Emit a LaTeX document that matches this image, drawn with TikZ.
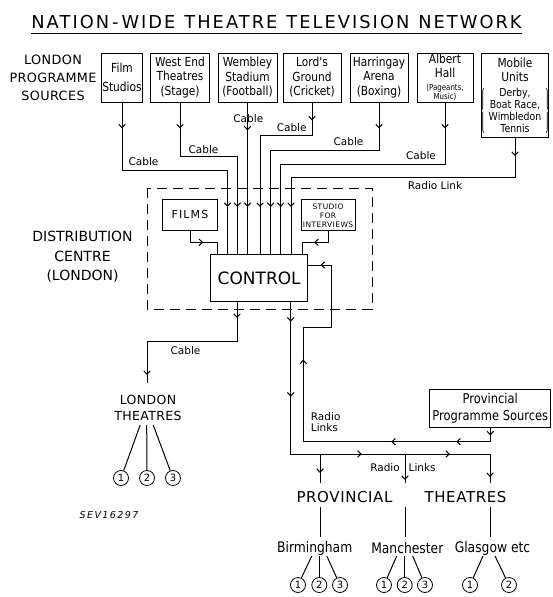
\documentclass[tikz,border=0pt]{standalone}
\usepackage{fontspec}
\setmainfont{DejaVu Sans}
\newfontfamily\narrowfont{DejaVu Sans}[FakeStretch=0.85]
\usetikzlibrary{arrows.meta, decorations.markings, decorations.pathreplacing}
\newcommand\smallsrc{\fontsize{8.3}{9}\selectfont}
\newcommand\listsrc{\fontsize{11}{12}\selectfont}
\tikzset{
  wire/.style={line width=1pt},
  mk/.style={postaction={decorate, decoration={markings,
      mark=at position #1 with {\arrow{Straight Barb[length=3.5pt, width=6.5pt]}}}}},
  src/.style={draw, line width=1pt, inner sep=0pt, align=center, minimum height=49pt,
      font=\narrowfont\fontsize{12.5}{14.5}\selectfont},
  lbl/.style={inner sep=0pt, font=\fontsize{10.5}{11}\selectfont},
  hdr/.style={inner sep=0pt, align=center},
  num/.style={circle, draw, line width=0.8pt, minimum size=15pt, inner sep=0pt,
      font=\fontsize{10}{10}\selectfont},
  curl/.style={decorate, decoration={brace, amplitude=2.5pt}, line width=0.6pt}
}

\begin{document}
\begin{tikzpicture}[x=1pt, y=-1pt]
\useasboundingbox (0,0) rectangle (553,597);

% title
\node[inner sep=0pt, font=\fontsize{17.8}{20}\selectfont\addfontfeature{LetterSpace=11.5}] (title) at (276.5,21.7)
  {NATION\,-\,WIDE\enspace THEATRE\enspace TELEVISION\enspace NETWORK};
\draw[line width=1.2pt] ([yshift=-5pt]title.south west) -- ([yshift=-5pt]title.south east);

% London programme sources
\node[hdr, font=\fontsize{12.8}{18.3}\selectfont\addfontfeature{LetterSpace=3}] (lps) at (53,78) {LONDON\\PROGRAMME\\SOURCES};
\node[src, minimum width=41pt] (film) at (122,77.5) {Film\\[4.5pt]Studios};
\node[src, minimum width=59pt] (westend) at (180,77.5) {West End\\Theatres\\(Stage)};
\node[src, minimum width=59pt] (wembley) at (247.5,77.5) {Wembley\\Stadium\\(Football)};
\node[src, minimum width=58pt] (lords) at (312,77.5) {Lord's\\Ground\\(Cricket)};
\node[src, minimum width=58pt] (harr) at (379,77.5) {Harringay\\Arena\\(Boxing)};
\node[src, minimum width=56pt] (albert) at (445,77.5)
  {Albert\\Hall\\[-1.5pt]\smallsrc(Pageants,\\[-5.5pt]\smallsrc Music)};
\node[src, minimum width=67pt, minimum height=84pt] (mobile) at (515,95.5)
  {Mobile\\[-1pt]Units\\[1pt]\listsrc Derby,\\[-2.5pt]\listsrc Boat Race,\\[-2.5pt]\listsrc Wimbledon\\[-3pt]\listsrc Tennis};
\draw[curl] ([xshift=3pt, yshift=5pt]mobile.south west) -- ([xshift=3pt, yshift=50pt]mobile.south west);
\draw[curl] ([xshift=-3pt, yshift=50pt]mobile.south east) -- ([xshift=-3pt, yshift=5pt]mobile.south east);

% distribution centre
\node[hdr, font=\fontsize{14}{19.7}\selectfont] (dist) at (82.5,257) {DISTRIBUTION\\CENTRE\\(LONDON)};
\draw[wire, dash pattern=on 10pt off 6pt] (147,188) rectangle (372,309);
\node[draw, wire, minimum width=54.6pt, minimum height=31pt, inner sep=0pt,
  font=\fontsize{11}{12}\selectfont\addfontfeature{LetterSpace=10}] (films) at (190,214.5) {FILMS};
\node[draw, wire, minimum width=54pt, minimum height=30.7pt, inner sep=0pt, align=center,
  font=\fontsize{7.5}{9}\selectfont\addfontfeature{LetterSpace=6}] (studio) at (328,215.3) {STUDIO\\FOR\\INTERVIEWS};
\node[draw, wire, minimum width=97pt, minimum height=46.7pt, inner sep=0pt,
  font=\fontsize{17}{20}\selectfont] (control) at (259.2,278.3) {CONTROL};

\foreach \x [count=\i] in {227.5,237.3,247.5,260,270.7,280.7,291}
  \coordinate (in\i) at (\x,255);
\coordinate (cl) at (217.3,255);
\coordinate (cr) at (302.3,255);
\coordinate (out1) at (237,301.7);
\coordinate (out2) at (290.7,301.7);

% cables into control
\draw[wire, mk=26pt, mk=-48pt] (film.south) |- (in1 |- 0,170) -- (in1);
\draw[wire, mk=26pt, mk=-48pt] (westend.south) |- (in2 |- 0,156) -- (in2);
\draw[wire, mk=28pt, mk=-48pt] (wembley.south) -- (in3);
\draw[wire, mk=18pt, mk=-48pt] (lords.south) |- (in4 |- 0,135) -- (in4);
\draw[wire, mk=26pt, mk=-48pt] (harr.south) |- (in5 |- 0,150) -- (in5);
\draw[wire, mk=26pt, mk=-48pt] (albert.south) |- (in6 |- 0,164) -- (in6);
\draw[wire, mk=18pt, mk=-48pt] (mobile.south) |- (in7 |- 0,177) -- (in7);
\draw[wire, mk=25pt] (films.south) |- (cl |- 0,242.3) -- (cl);
\draw[wire, mk=25pt] (studio.south) |- (cr |- 0,242.3) -- (cr);

\node[lbl] (c1) at (143.5,161.7) {Cable};
\node[lbl] (c2) at (203.5,150) {Cable};
\node[lbl] (c3) at (248.3,118.3) {Cable};
\node[lbl] (c4) at (291.7,127.3) {Cable};
\node[lbl] (c5) at (348.5,141.7) {Cable};
\node[lbl] (c6) at (421,156) {Cable};
\node[lbl] (rl) at (435,186) {Radio Link};

% London theatres
\coordinate (ltin) at (147,383);
\draw[wire, mk=16.3pt, mk=-8pt] (out1) |- (ltin |- 0,341.7) -- (ltin);
\node[lbl] (c7) at (185.5,351) {Cable};
\node[hdr, font=\fontsize{12.5}{16}\selectfont\addfontfeature{LetterSpace=3}] (lth) at (148,408) {LONDON\\THEATRES};
\node[num] (l1) at (121,478) {1};
\node[num] (l2) at (147,478) {2};
\node[num] (l3) at (173,478) {3};
\coordinate (lf) at (146.7,425);
\foreach \c/\dx in {l1/-6.5,l2/0,l3/6.5}
  \draw[wire] ([xshift=\dx pt]lf) -- (\c);

\node[font=\itshape\fontsize{9.5}{10}\selectfont\addfontfeature{LetterSpace=15}, inner sep=0pt] (sev) at (109,515) {SEV16297};

% provincial
\node[draw, wire, minimum width=120.7pt, minimum height=38pt, inner sep=0pt, align=center,
  font=\narrowfont\fontsize{13.5}{16.7}\selectfont] (pps) at (490.3,408.3) {Provincial\\Programme Sources};
\draw[wire, mk=7.7pt, mk=48pt, mk=113pt, mk=283.1pt, mk=-12.3pt]
  (pps.south) |- (303.3,441.7) |- (331.7,327.7) |- (control.east |- 0,265);
\node[lbl, align=left, anchor=west] (rls) at (310.7,422) {Radio\\Links};

\coordinate (pv1) at (320,483);
\coordinate (pv2) at (405,483);
\coordinate (pv3) at (490,483);
\draw[wire, mk=20pt, mk=95pt, mk=223.3pt, mk=311.6pt, mk=-6pt] (out2) |- (pv3 |- 0,454) -- (pv3);
\draw[wire, mk=-10pt] (pv1 |- 0,454) -- (pv1);
\draw[wire, mk=-3pt] (pv2 |- 0,454) -- (pv2);
\node[lbl, anchor=east] (rad) at (400,468) {Radio};
\node[lbl, anchor=west] (lnk) at (408.5,468) {Links};

\node[inner sep=0pt, font=\fontsize{15}{16}\selectfont\addfontfeature{LetterSpace=4}] (prov) at (344.5,496.7) {PROVINCIAL};
\node[inner sep=0pt, font=\fontsize{15}{16}\selectfont\addfontfeature{LetterSpace=4}] (pth) at (465.5,496.7) {THEATRES};
\foreach \p in {pv1,pv2,pv3}
  \draw[wire] (\p |- 0,507) -- (\p |- 0,536.7);

\node[inner sep=0pt, font=\narrowfont\fontsize{14.5}{16}\selectfont] (bham) at (314.7,548) {Birmingham};
\node[inner sep=0pt, font=\narrowfont\fontsize{14.5}{16}\selectfont] (manch) at (407.3,548) {Manchester};
\node[inner sep=0pt, font=\narrowfont\fontsize{14.5}{16}\selectfont] (glas) at (492.5,548) {Glasgow etc};

\node[num] (b1) at (298,585) {1};
\node[num] (b2) at (319.3,585) {2};
\node[num] (b3) at (340,585) {3};
\node[num] (m1) at (384,585) {1};
\node[num] (m2) at (404.7,585) {2};
\node[num] (m3) at (425,585) {3};
\node[num] (g1) at (470,585) {1};
\node[num] (g2) at (509,585) {2};
\coordinate (bf) at (319.3,556);
\coordinate (mf) at (404.7,556);
\coordinate (gf) at (489,556);
\foreach \c/\dx in {b1/-7.5,b2/0,b3/7.5}
  \draw[wire] ([xshift=\dx pt]bf) -- (\c);
\foreach \c/\dx in {m1/-8,m2/0,m3/8}
  \draw[wire] ([xshift=\dx pt]mf) -- (\c);
\foreach \c/\dx in {g1/-6,g2/6}
  \draw[wire] ([xshift=\dx pt]gf) -- (\c);
\end{tikzpicture}
\end{document}
